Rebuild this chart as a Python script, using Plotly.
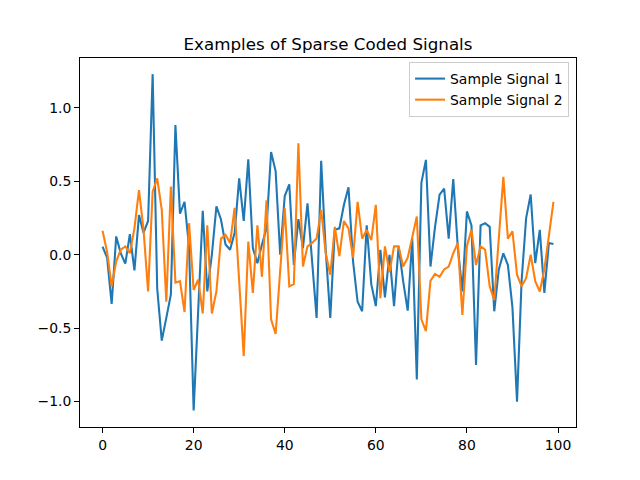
import plotly.graph_objects as go

x_values = list(range(100))

signal_1 = [0.056, -0.02, -0.335, 0.125, 0.01, -0.06, 0.14, -0.107, 0.27, 0.15,
            0.23, 1.23, -0.23, -0.585, -0.43, -0.27, 0.884, 0.28, 0.36, 0.05,
            -1.06, -0.4, 0.30, -0.25, 0.0, 0.33, 0.24, 0.07, 0.034, 0.15,
            0.52, 0.23, 0.65, 0.045, -0.057, 0.07, 0.18, 0.70, 0.57, 0.0,
            0.40, 0.48, -0.07, 0.243, 0.045, 0.35, -0.05, -0.43, 0.64, 0.03,
            -0.43, 0.17, 0.18, 0.34, 0.46, -0.045, -0.32, -0.385, 0.20, -0.20,
            -0.35, 0.034, -0.29, 0.0, -0.35, 0.057, -0.18, -0.38, 0.11, -0.85,
            0.49, 0.646, -0.08, 0.19, 0.41, 0.45, 0.11, 0.515, 0.05, -0.25,
            0.295, 0.20, -0.75, 0.2, 0.215, 0.19, -0.385, -0.1, 0.01, -0.07,
            -0.36, -1.0, -0.18, 0.25, 0.41, -0.057, 0.17, -0.26, 0.08, 0.073]

signal_2 = [0.163, 0.02, -0.215, -0.045, 0.034, 0.057, 0.011, 0.18, 0.44, 0.17,
            -0.25, 0.43, 0.52, 0.306, -0.32, 0.465, -0.19, -0.18, -0.39, 0.215,
            -0.24, -0.17, -0.40, 0.20, -0.40, -0.25, 0.11, 0.136, 0.08, 0.32,
            -0.18, -0.69, 0.09, -0.26, 0.20, -0.15, 0.37, -0.44, -0.54, -0.08,
            0.32, -0.215, -0.20, 0.76, -0.08, 0.057, 0.08, 0.11, 0.306, 0.01,
            -0.136, 0.19, -0.01, 0.23, 0.18, -0.02, 0.36, 0.11, 0.17, 0.10,
            0.34, -0.295, 0.057, -0.12, 0.057, 0.057, -0.08, -0.02, 0.11, 0.26,
            -0.44, -0.52, -0.177, -0.13, -0.15, -0.1, -0.08, 0.01, 0.08, -0.41,
            0.06, 0.17, -0.07, 0.057, 0.034, -0.215, -0.31, 0.1, 0.53, 0.11,
            0.16, -0.136, -0.215, -0.16, 0.0, -0.18, -0.25, -0.10, 0.125, 0.36]

series_names = ["Sample Signal 1", "Sample Signal 2"]
series_colors = ["#1f77b4", "#ff7f0e"]

fig = go.Figure()
for name, vals, col in zip(series_names, [signal_1, signal_2], series_colors):
    fig.add_trace(go.Scatter(x=x_values, y=vals, mode="lines", name=name,
                             line=dict(color=col, width=2.08)))

font_family = "DejaVu Sans"
axis_common = dict(showgrid=False, zeroline=False, showline=True, linecolor="black",
                   linewidth=1, mirror=True, ticks="outside", ticklen=4.9,
                   tickwidth=1, tickcolor="black",
                   tickfont=dict(family=font_family, size=13.9, color="black"))

# page body has an 8px margin, so margins are reduced by 8 to land the axes where the reference has them
fig.update_layout(
    width=640, height=480,
    margin=dict(l=72, r=72, t=50, b=60.5, pad=0),
    paper_bgcolor="white", plot_bgcolor="white",
    font=dict(family=font_family, color="black"),
    title=dict(text="Examples of Sparse Coded Signals", x=0.5, xref="paper",
               xanchor="center", y=1, yref="paper", yanchor="bottom",
               pad=dict(b=8), font=dict(family=font_family, size=16.7, color="black")),
    xaxis=dict(range=[-4.95, 103.95], tickvals=[0, 20, 40, 60, 80, 100], **axis_common),
    yaxis=dict(range=[-1.173, 1.34], tickvals=[-1.0, -0.5, 0.0, 0.5, 1.0],
               tickformat=".1f", **axis_common),
    legend=dict(x=0.986, y=0.989, xanchor="right", yanchor="top",
                bgcolor="rgba(255,255,255,0.8)", bordercolor="#cccccc", borderwidth=1,
                font=dict(family=font_family, size=13.9, color="black"),
                tracegroupgap=0, itemwidth=30),
    showlegend=True,
)

fig.write_html("out.html")
